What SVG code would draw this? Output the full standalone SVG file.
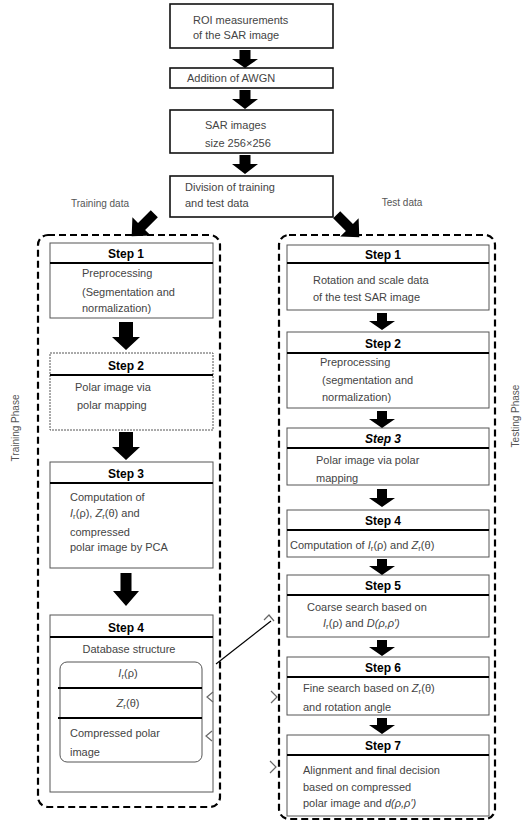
<svg xmlns="http://www.w3.org/2000/svg" width="528" height="824" viewBox="0 0 528 824">
<style>
.box{fill:#fff;stroke:#111;stroke-width:1.6}
.step{fill:#fff;stroke:#555;stroke-width:1}
.sep{stroke:#000;stroke-width:1.8}
.cont{fill:none;stroke:#000;stroke-width:2.2;stroke-dasharray:7 4}
.arr{fill:#000}
.t{font-family:"Liberation Sans",Arial,sans-serif;font-size:11px;fill:#444}
.h{font-family:"Liberation Sans",Arial,sans-serif;font-size:12px;font-weight:bold;fill:#000;text-anchor:middle}
.m{text-anchor:middle}
.lbl{font-family:"Liberation Sans",Arial,sans-serif;font-size:10px;fill:#555;text-anchor:middle}
.i{font-style:italic}
.con{fill:none;stroke:#000;stroke-width:1.2}
.chev{fill:none;stroke:#666;stroke-width:1.2}
</style>
<rect width="528" height="824" fill="#fff"/>

<g id="top-boxes">
<g id="n-roi"><rect class="box" x="170" y="4" width="163" height="44"/>
<text class="t" x="193" y="24">ROI measurements</text><text class="t" x="193" y="39">of the SAR image</text></g>
<g id="n-awgn"><rect class="box" x="170" y="68" width="163" height="20"/>
<text class="t" x="187" y="82">Addition of AWGN</text></g>
<g id="n-size"><rect class="box" x="170" y="110" width="163" height="43"/>
<text class="t" x="205" y="129">SAR images</text><text class="t" x="205" y="147">size 256×256</text></g>
<g id="n-div"><rect class="box" x="170" y="176" width="163" height="41"/>
<text class="t" x="185" y="191">Division of training</text><text class="t" x="185" y="207">and test data</text></g>
</g>

<g id="labels">
<text class="lbl" x="100" y="207">Training data</text>
<text class="lbl" x="402" y="206">Test data</text>
<text class="lbl" transform="translate(19,428) rotate(-90)">Training Phase</text>
<text class="lbl" transform="translate(519,416) rotate(-90)">Testing Phase</text>
</g>

<g id="containers">
<rect class="cont" x="38" y="235" width="182" height="572" rx="10"/>
<rect class="cont" x="279" y="235" width="216" height="584" rx="10"/>
</g>

<g id="left-steps">
<g id="l-step1"><rect class="step" x="50" y="243" width="163" height="75"/><line class="sep" x1="50" y1="263" x2="213" y2="263"/>
<text class="h" x="126" y="258">Step 1</text>
<text class="t" x="82" y="277">Preprocessing</text><text class="t" x="82" y="296">(Segmentation and</text><text class="t" x="82" y="312">normalization)</text></g>
<g id="l-step2"><rect class="step" x="50" y="353" width="163" height="77" stroke-dasharray="2 1"/><line class="sep" x1="50" y1="375" x2="213" y2="375"/>
<text class="h" x="126" y="370">Step 2</text>
<text class="t" x="75" y="391">Polar image via</text><text class="t" x="77" y="409">polar mapping</text></g>
<g id="l-step3"><rect class="step" x="50" y="462" width="163" height="106"/><line class="sep" x1="50" y1="483" x2="213" y2="483"/>
<text class="h" x="126" y="478">Step 3</text>
<text class="t" x="70" y="501">Computation of</text>
<text class="t" x="70" y="517"><tspan class="i">I</tspan><tspan font-size="8" dy="2">r</tspan><tspan dy="-2">(ρ), </tspan><tspan class="i">Z</tspan><tspan font-size="8" dy="2">r</tspan><tspan dy="-2">(θ) and</tspan></text>
<text class="t" x="70" y="536">compressed</text><text class="t" x="70" y="551">polar image by PCA</text></g>
<g id="l-step4"><rect class="step" x="50" y="615" width="163" height="177"/><line class="sep" x1="50" y1="637" x2="213" y2="637"/>
<text class="h" x="126" y="632">Step 4</text>
<text class="t m" x="129" y="653">Database structure</text>
<rect x="60" y="662" width="142" height="100" rx="7" fill="none" stroke="#555" stroke-width="1"/>
<line class="sep" x1="58" y1="688" x2="202" y2="688"/><line class="sep" x1="58" y1="718" x2="202" y2="718"/>
<text class="t m" x="128" y="677"><tspan class="i">I</tspan><tspan font-size="8" dy="2">r</tspan><tspan dy="-2">(ρ)</tspan></text>
<text class="t m" x="128" y="707"><tspan class="i">Z</tspan><tspan font-size="8" dy="2">r</tspan><tspan dy="-2">(θ)</tspan></text>
<text class="t" x="70" y="737">Compressed polar</text><text class="t" x="70" y="756">image</text></g>
</g>

<g id="right-steps">
<g id="r-step1"><rect class="step" x="287" y="245" width="202" height="65"/><line class="sep" x1="287" y1="263" x2="489" y2="263"/>
<text class="h" x="383" y="259">Step 1</text>
<text class="t" x="313" y="284">Rotation and scale data</text><text class="t" x="313" y="301">of the test SAR image</text></g>
<g id="r-step2"><rect class="step" x="287" y="332" width="202" height="76"/><line class="sep" x1="287" y1="353" x2="489" y2="353"/>
<text class="h" x="383" y="348">Step 2</text>
<text class="t" x="320" y="366">Preprocessing</text><text class="t" x="322" y="384">(segmentation and</text><text class="t" x="322" y="401">normalization)</text></g>
<g id="r-step3"><rect class="step" x="287" y="428" width="202" height="57"/><line class="sep" x1="287" y1="448" x2="489" y2="448"/>
<text class="h i" x="383" y="443">Step 3</text>
<text class="t" x="316" y="464">Polar image via polar</text><text class="t" x="316" y="482">mapping</text></g>
<g id="r-step4"><rect class="step" x="287" y="510" width="202" height="47"/><line class="sep" x1="287" y1="530" x2="489" y2="530"/>
<text class="h" x="383" y="525">Step 4</text>
<text class="t" x="290" y="549">Computation of <tspan class="i">I</tspan><tspan font-size="8" dy="2">r</tspan><tspan dy="-2">(ρ) and </tspan><tspan class="i">Z</tspan><tspan font-size="8" dy="2">r</tspan><tspan dy="-2">(θ)</tspan></text></g>
<g id="r-step5"><rect class="step" x="287" y="575" width="202" height="62"/><line class="sep" x1="287" y1="595" x2="489" y2="595"/>
<text class="h" x="383" y="590">Step 5</text>
<text class="t" x="307" y="611">Coarse search based on</text>
<text class="t" x="323" y="627"><tspan class="i">I</tspan><tspan font-size="8" dy="2">r</tspan><tspan dy="-2">(ρ) and </tspan><tspan class="i">D(ρ,ρ′)</tspan></text></g>
<g id="r-step6"><rect class="step" x="287" y="657" width="202" height="58"/><line class="sep" x1="287" y1="677" x2="489" y2="677"/>
<text class="h" x="383" y="672">Step 6</text>
<text class="t" x="303" y="692">Fine search based on <tspan class="i">Z</tspan><tspan font-size="8" dy="2">r</tspan><tspan dy="-2">(θ)</tspan></text>
<text class="t" x="303" y="711">and rotation angle</text></g>
<g id="r-step7"><rect class="step" x="287" y="735" width="202" height="81"/><line class="sep" x1="287" y1="755" x2="489" y2="755"/>
<text class="h" x="383" y="750">Step 7</text>
<text class="t" x="303" y="774">Alignment and final decision</text><text class="t" x="303" y="791">based on compressed</text>
<text class="t" x="303" y="807">polar image and <tspan class="i">d(ρ,ρ′)</tspan></text></g>
</g>

<g id="connectors">
<polygon class="arr" points="239.5,50 250.5,50 250.5,59 258,59 245,68 232,59 239.5,59"/>
<polygon class="arr" points="239.5,90 250.5,90 250.5,99 258,99 245,109 232,99 239.5,99"/>
<polygon class="arr" points="239.5,155 250.5,155 250.5,164 258,164 245,174 232,164 239.5,164"/>
<polygon class="arr" transform="translate(143,225) rotate(45)" points="-5,-16 5,-16 5,2 13,2 0,16 -13,2 -5,2"/>
<polygon class="arr" transform="translate(348,226) rotate(-45)" points="-5,-16 5,-16 5,2 13,2 0,16 -13,2 -5,2"/>
<polygon class="arr" points="119,322 133,322 133,337 140,337 126,350 112,337 119,337"/>
<polygon class="arr" points="119,432 133,432 133,447 140,447 126,460 112,447 119,447"/>
<polygon class="arr" points="120.5,573 131.5,573 131.5,591 139,591 126,606 113,591 120.5,591"/>
<polygon class="arr" points="377,313 387,313 387,321 395,321 382,330 369,321 377,321"/>
<polygon class="arr" points="377,411 387,411 387,419 395,419 382,428 369,419 377,419"/>
<polygon class="arr" points="377,489 387,489 387,498 395,498 382,507 369,498 377,498"/>
<polygon class="arr" points="377,559 387,559 387,566 395,566 382,575 369,566 377,566"/>
<polygon class="arr" points="377,640 387,640 387,647 395,647 382,656 369,647 377,647"/>
<polygon class="arr" points="377,718 387,718 387,725 395,725 382,734 369,725 377,725"/>
<line class="con" x1="216" y1="664" x2="271" y2="621"/>
<path class="chev" d="M264,620 L269,615 L274,621"/>
<path class="chev" d="M213,692 L207,697 L213,702"/>
<path class="chev" d="M212,731 L206,736 L212,741"/>
<path class="chev" d="M271,691 L277,697 L271,703"/>
<path class="chev" d="M270,761 L276,767 L270,773"/>
</g>
</svg>
